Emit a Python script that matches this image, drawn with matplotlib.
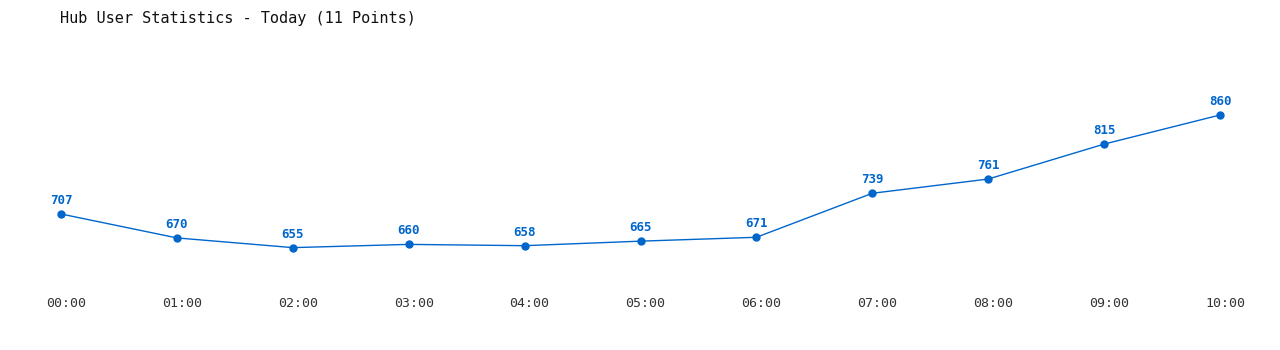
# Hub user statistics - line chart
import matplotlib
matplotlib.use("Agg")
import matplotlib.pyplot as plt
import matplotlib.transforms as mtransforms

# %% Data
hours = ["00:00", "01:00", "02:00", "03:00", "04:00", "05:00",
         "06:00", "07:00", "08:00", "09:00", "10:00"]
users = [707, 670, 655, 660, 658, 665, 671, 739, 761, 815, 860]

# %% Plot
blue = "#0066cc"
fig = plt.figure(figsize=(12.8, 3.5), dpi=100)
ax = fig.add_axes([61 / 1280, 60 / 350, (1220 - 61) / 1280, 230 / 350])

x = list(range(len(hours)))
ax.plot(x, users, color=blue, linewidth=1, marker="o", markersize=5, clip_on=False)
for xi, v in zip(x, users):
    ax.annotate(str(v), (xi, v), xytext=(0, 5), textcoords="offset points",
                ha="center", va="bottom", color=blue, fontsize=9,
                fontweight="bold", family="DejaVu Sans Mono")

ax.set_xlim(0, 10)
ax.set_ylim(589.5, 945)
ax.set_xticks(x)
ax.set_xticklabels(hours, family="DejaVu Sans Mono", fontsize=9.5, color="#333333")
ax.tick_params(axis="x", length=0, pad=5)
# labels sit a few pixels right of the points in the original
shift = mtransforms.ScaledTranslation(5 / 100, 0, fig.dpi_scale_trans)
for lbl in ax.get_xticklabels():
    lbl.set_transform(lbl.get_transform() + shift)
ax.set_yticks([])
for s in ax.spines.values():
    s.set_visible(False)

fig.text(60 / 1280, 1 - 18 / 350, "Hub User Statistics - Today (11 Points)",
         ha="left", va="center", family="DejaVu Sans Mono", fontsize=11,
         color="#111111")

fig.savefig("out.png", dpi=100)
